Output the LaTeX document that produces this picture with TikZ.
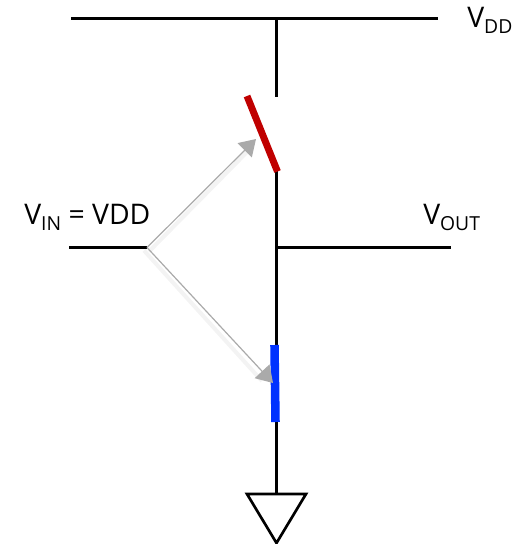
\documentclass[tikz,border=0pt]{standalone}
\usepackage{fontspec}
\setmainfont{Open Sans}
\usetikzlibrary{arrows.meta}
\definecolor{ctrlgray}{RGB}{170,170,170}
\definecolor{ctrlshadow}{RGB}{243,243,243}
\tikzset{wire/.style={line width=2.2pt,black},
 ctrl/.style={draw=ctrlgray,line width=0.9pt,-{Triangle[length=12pt,width=15pt,fill=ctrlgray]}},
 ctrlsh/.style={draw=ctrlshadow,line width=3pt},
 lab/.style={inner sep=0pt,font=\fontsize{21.3}{24}\selectfont,anchor=base west}}
\newcommand{\sbs}[1]{\raisebox{-4.6pt}{\fontsize{14.5}{16}\selectfont #1}}
\begin{document}
\begin{tikzpicture}[x=0.75pt,y=-0.75pt]
\useasboundingbox (0,0) rectangle (526,544);
\coordinate (railL) at (71,18.5); \coordinate (railR) at (438,18.5); \coordinate (railT) at (276.5,18.5);
\coordinate (a) at (276.5,97); \coordinate (s1) at (247,96); \coordinate (s2) at (277.5,171.5);
\coordinate (b) at (276.5,171); \coordinate (c) at (276.5,346); \coordinate (j) at (276.5,247.5);
\coordinate (outR) at (451,247.5); \coordinate (inL) at (69,247.5); \coordinate (g) at (147,247.5);
\coordinate (n1) at (274.5,345); \coordinate (n2) at (275.5,422); \coordinate (n3) at (276.5,422); \coordinate (d) at (276.5,494);
\coordinate (t1) at (256,139); \coordinate (t2) at (273,383);
\draw[wire] (railL)--(railR);
\draw[wire] (railT)--(a);
\draw[wire] (b)--(c);
\draw[wire] (j)--(outR);
\draw[wire] (inL)--(g);
\draw[wire] (n3)--(d);
\draw[wire,line width=2pt,line join=miter] (247,494)--(306,494)--(276.5,543)--cycle;
\draw[line width=5.2pt,color={rgb,255:red,192;green,0;blue,0}] (s1)--(s2);
\draw[line width=6.4pt,color={rgb,255:red,0;green,50;blue,255}] (n1)--(n2);
\draw[ctrlsh] ([shift={(2,4)}]g)--([shift={(-5,9)}]t1);
\draw[ctrlsh] ([shift={(-3,3)}]g)--([shift={(-11,-2)}]t2);
\draw[ctrl] (g)--(t1);
\draw[ctrl] (g)--(t2);
\node[lab] (vdd) at (467,27) {V\sbs{DD}};
\node[lab] (vin) at (24,224) {V\sbs{IN} = VDD};
\node[lab] (vout) at (423,224) {V\sbs{OUT}};
\end{tikzpicture}
\end{document}
